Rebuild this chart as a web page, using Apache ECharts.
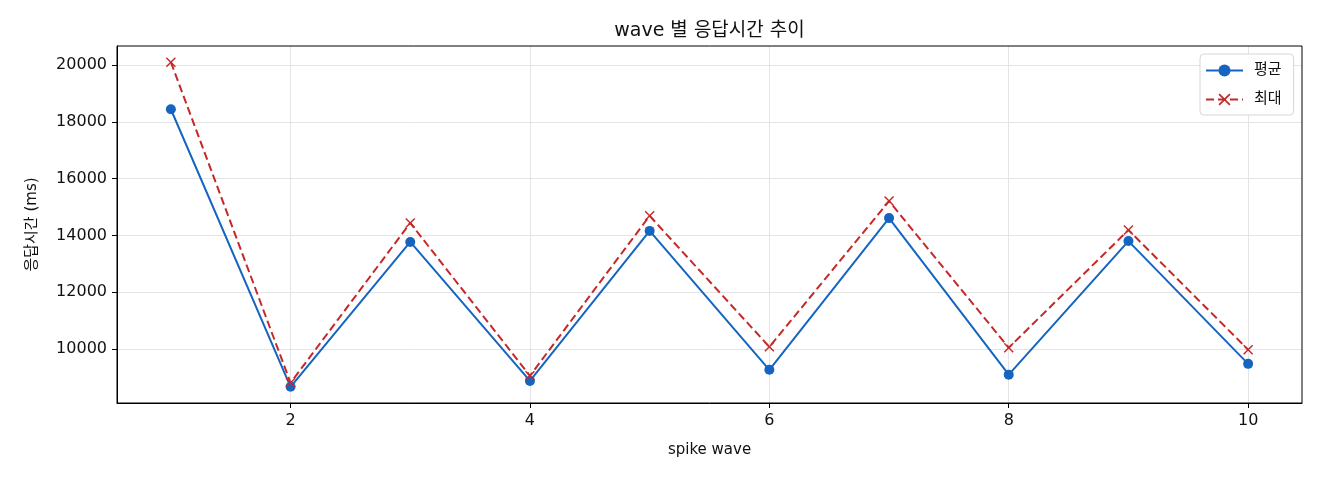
<!DOCTYPE html>
<html>
<head>
<meta charset="utf-8">
<script src="https://cdn.jsdelivr.net/npm/echarts@6/dist/echarts.min.js"></script>
<style>
  html, body { margin: 0; padding: 0; background: #fff; }
  #chart { width: 1320px; height: 480px; }
</style>
</head>
<body>
<div id="chart"></div>
<script>
// --- data ---
const waves = [1, 2, 3, 4, 5, 6, 7, 8, 9, 10];
const avgMs = [18450, 8660, 13770, 8870, 14160, 9260, 14610, 9090, 13800, 9470];
const maxMs = [20110, 8800, 14440, 9050, 14690, 10070, 15210, 10040, 14190, 9970];
const xTicks = [2, 4, 6, 8, 10];
const yTicks = [10000, 12000, 14000, 16000, 18000, 20000];

const font = '"DejaVu Sans", "Noto Sans CJK KR", sans-serif';
const blue = '#1565c0';
const red = '#c62828';
const crossPath = 'path://M0,1L1,0L5,4L9,0L10,1L6,5L10,9L9,10L5,6L1,10L0,9L4,5Z';

const chart = echarts.init(document.getElementById('chart'));

chart.setOption({
    animation: false,
    textStyle: { fontFamily: font },
    grid: { left: 117, right: 18, top: 46, bottom: 77 },
    legend: {
        left: 1200,
        top: 54,
        orient: 'vertical',
        itemWidth: 37,
        itemHeight: 15,
        itemGap: 14,
        padding: [9, 12, 8, 5],
        borderColor: '#d6d6d6',
        borderWidth: 1,
        borderRadius: 4,
        backgroundColor: '#fff',
        textStyle: { fontFamily: font, fontSize: 15, color: '#111', padding: [0, 0, 0, 6] },
        data: ['평균', '최대']
    },
    xAxis: {
        type: 'value',
        min: 0.55,
        max: 10.45,
        name: 'spike wave',
        nameLocation: 'middle',
        nameGap: 40,
        nameTextStyle: { fontFamily: font, fontSize: 15, color: '#111' },
        axisLine: { onZero: false, lineStyle: { color: '#000', width: 1 } },
        axisTick: { customValues: xTicks, length: 5, lineStyle: { color: '#000' } },
        axisLabel: { customValues: xTicks, fontFamily: font, fontSize: 16, color: '#111', margin: 10 },
        splitLine: { show: true, lineStyle: { color: '#e4e4e4', width: 1 } }
    },
    yAxis: {
        type: 'value',
        min: 8090,
        max: 20680,
        name: '응답시간 (ms)',
        nameLocation: 'middle',
        nameGap: 77,
        nameTextStyle: { fontFamily: font, fontSize: 15, color: '#111' },
        axisLine: { show: true, lineStyle: { color: '#000', width: 1 } },
        axisTick: { show: true, customValues: yTicks, length: 5, lineStyle: { color: '#000' } },
        axisLabel: {
            customValues: yTicks, fontFamily: font, fontSize: 16, color: '#111', margin: 10,
            formatter: v => String(v)
        },
        splitLine: { show: true, lineStyle: { color: '#e4e4e4', width: 1 } }
    },
    series: [
        {
            name: '평균',
            type: 'line',
            data: waves.map((w, i) => [w, avgMs[i]]),
            symbol: 'circle',
            symbolSize: 10,
            itemStyle: { color: blue },
            lineStyle: { color: blue, width: 2 },
            z: 3
        },
        {
            name: '최대',
            type: 'line',
            data: waves.map((w, i) => [w, maxMs[i]]),
            symbol: crossPath,
            symbolSize: 10,
            itemStyle: { color: red },
            lineStyle: { color: red, width: 2, type: [8, 4] },
            z: 4
        }
    ],
    graphic: [
        // title centred over the plot area, as matplotlib does
        {
            type: 'text',
            x: 709.5,
            y: 31,
            style: {
                text: 'wave 별 응답시간 추이',
                font: '19px ' + font,
                fill: '#111',
                align: 'center',
                verticalAlign: 'middle'
            },
            silent: true
        },
        // frame on the top and right like the reference
        {
            type: 'rect',
            shape: { x: 117, y: 46, width: 1185, height: 357 },
            style: { fill: 'none', stroke: '#000', lineWidth: 1 },
            silent: true,
            z: 10
        }
    ]
});
</script>
</body>
</html>
